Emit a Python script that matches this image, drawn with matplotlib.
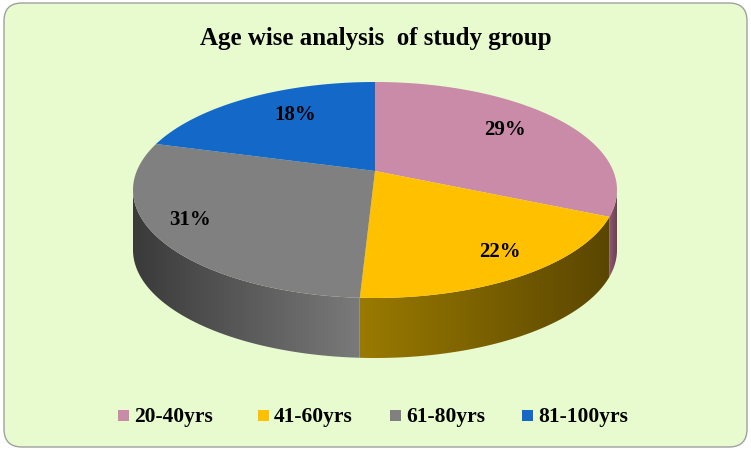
import numpy as np
import matplotlib.pyplot as plt
from matplotlib.patches import Polygon, FancyBboxPatch
from matplotlib.colors import LinearSegmentedColormap

labels = ['20-40yrs', '41-60yrs', '61-80yrs', '81-100yrs']
values = [29, 22, 31, 18]
top_colors = ['#C98BA8', '#FFC000', '#808080', '#1368C8']
side_colors = [('#8E5A73', '#6E3F55'), ('#9A7A00', '#5A4600'), ('#7A7A7A', '#3A3A3A'), ('#0A4A90', '#063060')]

W, H = 751, 452
fig = plt.figure(figsize=(W / 100, H / 100), dpi=100)
ax = fig.add_axes([0, 0, 1, 1])
ax.set_xlim(0, W)
ax.set_ylim(H, 0)
ax.axis('off')

ax.add_patch(FancyBboxPatch((4, 4), W - 8, H - 8, boxstyle='round,pad=0,rounding_size=18',
                            fc='#E8FBCF', ec='#A0A0A0', lw=1))

cx, cy, rx, ry, depth = 375, 191, 242, 108, 60
apex = (375, 172)  # perspective: slices meet above the ellipse centre


def pt(t, dy=0):
    return cx + rx * np.sin(t), cy - ry * np.cos(t) + dy


fracs = np.array(values) / sum(values)
bounds = np.concatenate([[0], np.cumsum(fracs)]) * 2 * np.pi

# side walls (front half only: pi/2 .. 3pi/2)
for i in range(len(values)):
    a, b = max(bounds[i], np.pi / 2), min(bounds[i + 1], 3 * np.pi / 2)
    if a >= b:
        continue
    t = np.linspace(a, b, 80)
    xs, ys = pt(t)
    xs2, ys2 = pt(t[::-1], depth)
    poly = Polygon(np.column_stack([np.concatenate([xs, xs2]), np.concatenate([ys, ys2])]),
                   closed=True, fc='none', ec='none')
    ax.add_patch(poly)
    cmap = LinearSegmentedColormap.from_list('s', list(side_colors[i]))
    grad = np.linspace(0, 1, 256).reshape(1, -1)
    if i == 2:
        grad = grad[:, ::-1]
    im = ax.imshow(grad, cmap=cmap, extent=(xs.min(), xs.max(), ys.max() + depth, ys.min()),
                   aspect='auto', zorder=2)
    im.set_clip_path(poly)

# top faces
for i in range(len(values)):
    t = np.linspace(bounds[i], bounds[i + 1], 120)
    xs, ys = pt(t)
    ax.add_patch(Polygon(np.column_stack([np.concatenate([[apex[0]], xs]), np.concatenate([[apex[1]], ys])]),
                         closed=True, fc=top_colors[i], ec='none', zorder=3))

label_pos = [(505, 130), (500, 252), (190, 220), (295, 115)]
for (x, y), v in zip(label_pos, values):
    ax.text(x, y, f'{v}%', ha='center', va='center', fontsize=15, fontweight='bold',
            family='Liberation Serif', zorder=5)

ax.text(W / 2, 38, 'Age wise analysis  of study group', ha='center', va='center', fontsize=18,
        fontweight='bold', family='Liberation Serif')

leg_x = [118, 258, 390, 522]
for x, lab, c in zip(leg_x, labels, top_colors):
    ax.add_patch(plt.Rectangle((x, 411), 11, 11, fc=c, ec='none'))
    ax.text(x + 16, 417, lab, ha='left', va='center', fontsize=15.5, fontweight='bold',
            family='Liberation Serif')

fig.savefig('out.png', dpi=100)
